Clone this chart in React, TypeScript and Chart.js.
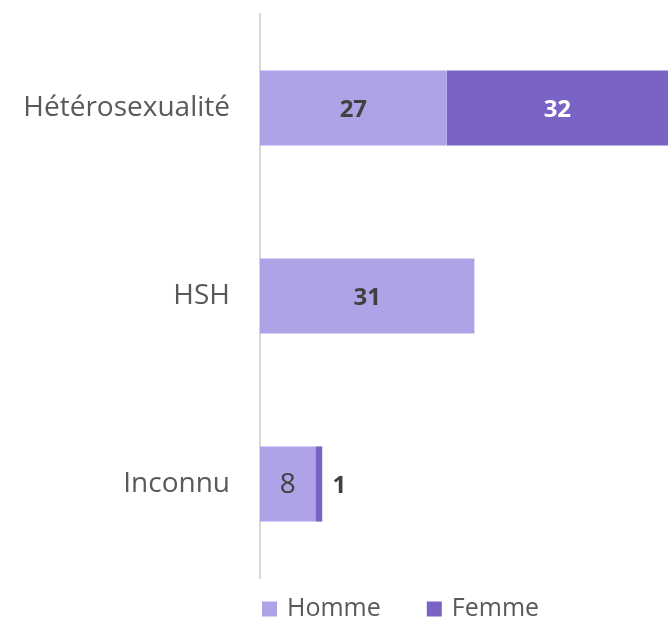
import React, { useEffect, useRef } from "react";
import { Chart, registerables } from "chart.js";

Chart.register(...registerables);

const categories = ["Hétérosexualité", "HSH", "Inconnu"];
const homme = [27, 31, 8];
const femme = [32, 0, 1];
const seriesNames = ["Homme", "Femme"];
const colors = ["#AFA2E6", "#7A63C5"];

const FONT = "'Open Sans', 'Noto Sans', sans-serif";
const TEXT = "#595959";

const labelPlugin = {
  id: "valueLabels",
  afterDatasetsDraw(chart: any) {
    const ctx = chart.ctx;
    ctx.save();
    ctx.textAlign = "center";
    ctx.textBaseline = "middle";
    chart.data.datasets.forEach((ds: any, di: number) => {
      const meta = chart.getDatasetMeta(di);
      meta.data.forEach((bar: any, i: number) => {
        const v = ds.data[i];
        if (!v) return;
        const left = Math.min(bar.base, bar.x);
        const right = Math.max(bar.base, bar.x);
        const w = right - left;
        let x = (left + right) / 2;
        let color = di === 1 ? "#ffffff" : "#404040";
        let font = `bold 24px ${FONT}`;
        let dy = 2;
        if (w < 30) {
          x = right + 17;
          color = "#404040";
        }
        if (di === 0 && w < 80) {
          font = `28px ${FONT}`;
          dy = 1;
        }
        ctx.font = font;
        ctx.fillStyle = color;
        ctx.fillText(String(v), x, bar.y + dy);
      });
    });
    ctx.restore();
  },
};

const legendPlugin = {
  id: "customLegend",
  afterDraw(chart: any) {
    const ctx = chart.ctx;
    const area = chart.chartArea;
    ctx.save();
    ctx.font = `25px ${FONT}`;
    ctx.textBaseline = "middle";
    ctx.textAlign = "left";
    const cy = area.bottom + 31;
    let x = area.left + 2;
    const box = 15;
    chart.data.datasets.forEach((ds: any) => {
      ctx.fillStyle = ds.backgroundColor;
      ctx.fillRect(x, cy - box / 2, box, box);
      ctx.fillStyle = TEXT;
      ctx.fillText(ds.label, x + box + 10, cy);
      const tw = ctx.measureText(ds.label).width;
      x += box + 10 + tw + 46;
    });
    ctx.restore();
  },
};

export default function App() {
  const ref = useRef<HTMLCanvasElement>(null);
  const W = Math.max(300, (typeof window !== "undefined" ? window.innerWidth : 668) - 8);
  const H = Math.max(300, (typeof window !== "undefined" ? window.innerHeight : 621) - 8);
  useEffect(() => {
    if (!ref.current) return;
    const chart = new Chart(ref.current, {
      type: "bar",
      data: {
        labels: categories,
        datasets: [
          { label: seriesNames[0], data: homme, backgroundColor: colors[0], borderWidth: 0 },
          { label: seriesNames[1], data: femme, backgroundColor: colors[1], borderWidth: 0 },
        ],
      },
      options: {
        indexAxis: "y",
        responsive: false,
        animation: false,
        layout: { padding: { top: 6, right: 0, bottom: 43, left: 0 } },
        datasets: { bar: { barPercentage: 0.4, categoryPercentage: 1 } },
        scales: {
          x: {
            stacked: true,
            min: 0,
            max: 59,
            display: false,
          },
          y: {
            stacked: true,
            grid: { display: false, drawTicks: false },
            border: { display: true, color: "#d9d9d9", width: 2 },
            ticks: {
              color: TEXT,
              font: { family: FONT, size: 28 },
              padding: 30,
            },
            afterFit: (s: any) => {
              s.width = 252;
              s.paddingTop = 0;
              s.paddingBottom = 0;
            },
          },
        },
        plugins: {
          legend: { display: false },
          tooltip: { enabled: false },
        },
      },
      plugins: [labelPlugin, legendPlugin],
    });
    return () => chart.destroy();
  }, []);
  return (
    <canvas
      ref={ref}
      width={W}
      height={H}
      style={{ display: "block", position: "absolute", left: 8, top: 8 }}
    />
  );
}
